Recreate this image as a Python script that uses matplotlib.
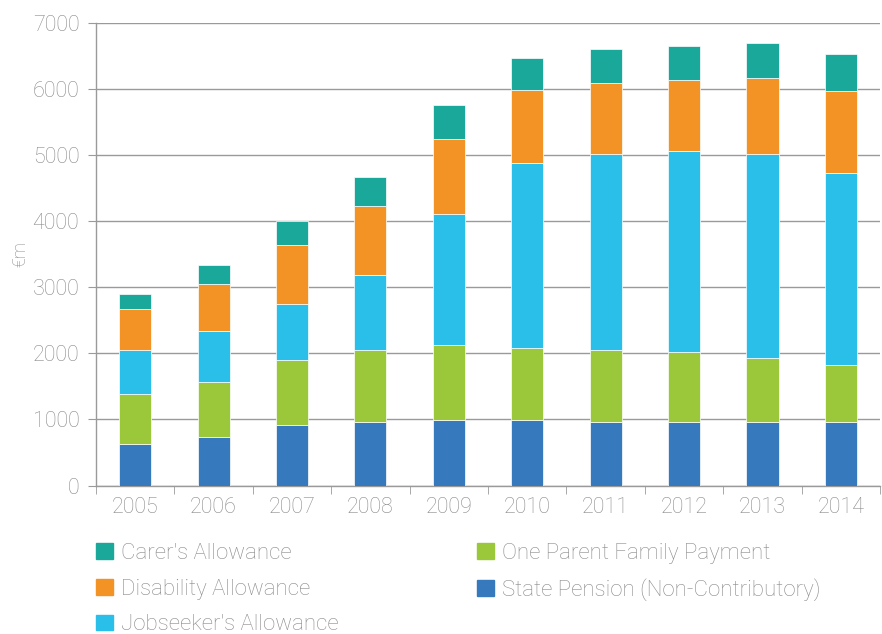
import numpy as np
import matplotlib
matplotlib.use("Agg")
import matplotlib.pyplot as plt
from matplotlib.patches import Patch

years = ["2005", "2006", "2007", "2008", "2009", "2010", "2011", "2012", "2013", "2014"]

# €m per scheme
state_pension = [630, 736, 917, 968, 998, 998, 968, 968, 968, 968]
one_parent = [755, 825, 986, 1086, 1132, 1086, 1086, 1056, 955, 849]
jobseekers = [670, 774, 839, 1131, 1976, 2800, 2957, 3041, 3088, 2912]
disability = [613, 719, 905, 1046, 1135, 1101, 1080, 1077, 1155, 1247]
carers = [233, 282, 353, 437, 513, 493, 518, 512, 538, 552]

series = [
    ("State Pension (Non-Contributory)", state_pension, "#3779bd"),
    ("One Parent Family Payment", one_parent, "#9bc83b"),
    ("Jobseeker's Allowance", jobseekers, "#29bfe9"),
    ("Disability Allowance", disability, "#f39325"),
    ("Carer's Allowance", carers, "#1aa89a"),
]

font = ["Roboto", "DejaVu Sans"]
weight = "light"
grey = "#8a8a8a"
line = "#9a9a9a"

fig = plt.figure(figsize=(8.82, 6.34), dpi=100)
ax = fig.add_axes([0.1088, 0.2342, 0.889, 0.7295])

x = np.arange(len(years))
bottom = np.zeros(len(years))
for name, vals, col in series:
    ax.bar(x, vals, width=0.41, bottom=bottom, color=col, edgecolor="white",
           linewidth=0.5, zorder=3)
    bottom += np.array(vals)

ax.set_xlim(-0.5, len(years) - 0.5)
ax.set_ylim(0, 7000)
ax.set_yticks(np.arange(0, 7001, 1000))
ax.yaxis.grid(True, color=line, linewidth=1, zorder=0)

ax.set_xticks(x)
ax.set_xticklabels(years)
ax.set_xticks(np.arange(-0.5, len(years)), minor=True)
ax.tick_params(axis="x", which="major", length=0, pad=8)
ax.tick_params(axis="x", which="minor", length=6, color=line, direction="out")
ax.tick_params(axis="y", length=6, color=line, pad=6)

for lab in ax.get_xticklabels() + ax.get_yticklabels():
    lab.set_family(font)
    lab.set_weight(weight)
    lab.set_fontsize(15.5)
    lab.set_color(grey)

for s in ["top", "right"]:
    ax.spines[s].set_visible(False)
for s in ["left", "bottom"]:
    ax.spines[s].set_color(line)
    ax.spines[s].set_linewidth(1)

ax.set_ylabel("€m", family=font, weight=weight, fontsize=13, color=grey, labelpad=2)

lookup = {name: col for name, vals, col in series}
col1 = ["Carer's Allowance", "Disability Allowance", "Jobseeker's Allowance"]
col2 = ["One Parent Family Payment", "State Pension (Non-Contributory)"]

kw = dict(frameon=False, handlelength=0.75, handleheight=0.7, handletextpad=0.36,
          labelspacing=0.66, borderaxespad=0, borderpad=0,
          prop={"family": font, "size": 16, "weight": weight}, labelcolor=grey)
leg1 = fig.legend(handles=[Patch(color=lookup[n], label=n) for n in col1],
                  loc="upper left", bbox_to_anchor=(0.1088, 0.1435), **kw)
leg2 = fig.legend(handles=[Patch(color=lookup[n], label=n) for n in col2],
                  loc="upper left", bbox_to_anchor=(0.5408, 0.1443), **kw)

fig.savefig("out.png", dpi=100)
